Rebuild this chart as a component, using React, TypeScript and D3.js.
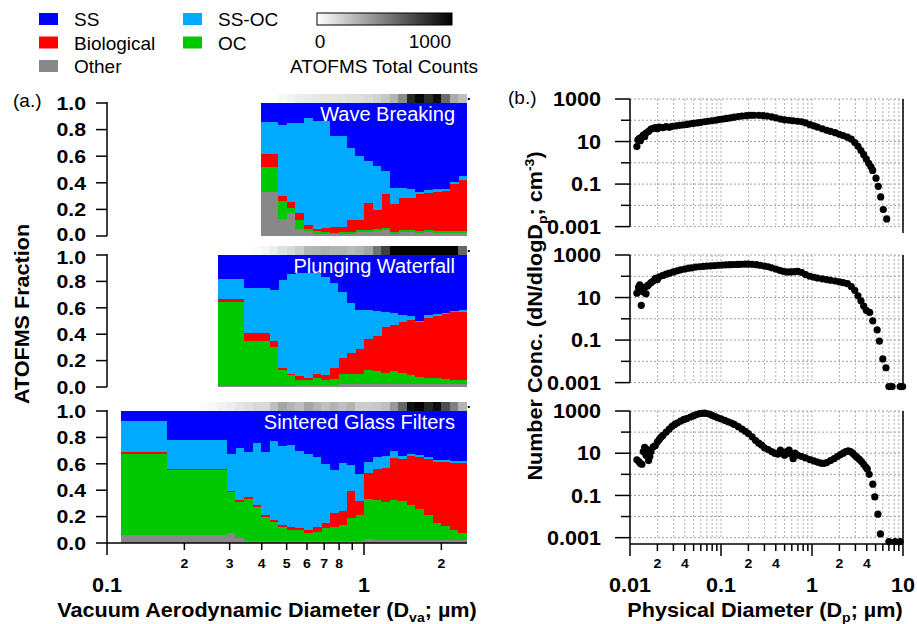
import React from 'react';
import * as d3 from 'd3';

// ---------- Categories ----------
const categories = ['Other', 'OC', 'Biological', 'SS-OC', 'SS'];
const categoryColors = ['#888888', '#00c800', '#ff0000', '#00aaff', '#0000ff'];

// ---------- Fine size-bin edges (µm) ----------
const fineEdges = [0.233, 0.251, 0.271, 0.293, 0.316, 0.341, 0.369, 0.398, 0.430, 0.464, 0.501, 0.541, 0.584, 0.631, 0.681, 0.736, 0.794, 0.858, 0.926, 1.000, 1.080, 1.166, 1.259, 1.359, 1.468, 1.585, 1.711, 1.848, 1.995, 2.154, 2.326, 2.512];

// ---------- Wave Breaking ----------
const waveEdges = [0.398, 0.464, 0.501, 0.541, 0.584, 0.631, 0.681, 0.736, 0.794, 0.858, 0.926, 1.000, 1.080, 1.166, 1.259, 1.359, 1.468, 1.585, 1.711, 1.848, 1.995, 2.154, 2.326, 2.512];
const waveOther = [0.33, 0.13, 0.17, 0.056, 0.035, 0.018, 0.015, 0.013, 0.013, 0.015, 0.03, 0.03, 0.038, 0.043, 0.018, 0.03, 0.03, 0.025, 0.03, 0.025, 0.025, 0.025, 0.02];
const waveOC = [0.19, 0.13, 0.04, 0.064, 0.021, 0.017, 0.015, 0.012, 0.017, 0.015, 0.013, 0.013, 0.018, 0.017, 0.012, 0.018, 0.018, 0.015, 0.018, 0.01, 0.015, 0.015, 0.015];
const waveBio = [0.10, 0.044, 0.048, 0.055, 0.03, 0.015, 0.03, 0.043, 0.038, 0.089, 0.076, 0.202, 0.139, 0.254, 0.208, 0.235, 0.235, 0.274, 0.272, 0.299, 0.30, 0.35, 0.388];
const waveSSOC = [0.24, 0.531, 0.59, 0.673, 0.798, 0.811, 0.801, 0.684, 0.684, 0.544, 0.481, 0.317, 0.329, 0.176, 0.121, 0.077, 0.067, 0.016, 0.025, 0.016, 0.015, 0.015, 0.025];
const waveSS = [0.14, 0.165, 0.152, 0.152, 0.116, 0.139, 0.139, 0.248, 0.248, 0.337, 0.40, 0.438, 0.476, 0.51, 0.641, 0.64, 0.65, 0.67, 0.655, 0.65, 0.645, 0.595, 0.552];
const waveCounts = [30, 50, 70, 80, 90, 100, 100, 110, 120, 130, 150, 180, 220, 300, 450, 850, 970, 820, 950, 580, 330, 250];

// ---------- Plunging Waterfall ----------
const plungeEdges = [0.271, 0.341, 0.430, 0.464, 0.501, 0.541, 0.584, 0.631, 0.681, 0.736, 0.794, 0.858, 0.926, 1.000, 1.080, 1.166, 1.259, 1.359, 1.468, 1.585, 1.711, 1.848, 1.995, 2.154, 2.326, 2.512];
const plungeOther = [0.005, 0.005, 0.005, 0.01, 0.01, 0.015, 0.015, 0.015, 0.015, 0.015, 0.02, 0.02, 0.02, 0.02, 0.02, 0.02, 0.02, 0.02, 0.02, 0.02, 0.02, 0.02, 0.02, 0.02, 0.02];
const plungeOC = [0.64, 0.342, 0.295, 0.117, 0.079, 0.035, 0.035, 0.053, 0.035, 0.048, 0.08, 0.08, 0.08, 0.107, 0.10, 0.089, 0.10, 0.085, 0.069, 0.056, 0.048, 0.045, 0.038, 0.03, 0.03];
const plungeBio = [0.018, 0.063, 0.047, 0.017, 0.011, 0.031, 0.018, 0.032, 0.039, 0.081, 0.123, 0.16, 0.19, 0.233, 0.27, 0.347, 0.353, 0.385, 0.417, 0.414, 0.452, 0.472, 0.492, 0.52, 0.52];
const plungeSSOC = [0.152, 0.337, 0.387, 0.666, 0.753, 0.779, 0.792, 0.76, 0.741, 0.641, 0.497, 0.373, 0.29, 0.227, 0.185, 0.114, 0.084, 0.054, 0.034, 0.01, 0.024, 0.013, 0.007, 0.005, 0.01];
const plungeSS = [0.185, 0.253, 0.266, 0.19, 0.147, 0.14, 0.14, 0.14, 0.17, 0.215, 0.28, 0.367, 0.42, 0.413, 0.425, 0.43, 0.443, 0.456, 0.46, 0.50, 0.456, 0.45, 0.443, 0.425, 0.42];
const plungeCounts = [20, 40, 70, 120, 150, 200, 290, 300, 320, 300, 300, 270, 300, 350, 550, 750, 1000, 1000, 1000, 1000, 1000, 1000, 1000, 1000, 600];

// ---------- Sintered Glass Filters ----------
const sinterEdges = [0.113, 0.171, 0.293, 0.316, 0.341, 0.369, 0.398, 0.430, 0.464, 0.501, 0.541, 0.584, 0.631, 0.681, 0.736, 0.794, 0.858, 0.926, 1.000, 1.080, 1.166, 1.259, 1.359, 1.468, 1.585, 1.711, 1.848, 1.995, 2.154, 2.326, 2.512];
const sinterOther = [0.06, 0.06, 0.072, 0.04, 0.015, 0.015, 0.015, 0.015, 0.015, 0.015, 0.015, 0.015, 0.015, 0.015, 0.015, 0.015, 0.015, 0.015, 0.03, 0.02, 0.02, 0.02, 0.02, 0.02, 0.02, 0.02, 0.02, 0.02, 0.02, 0.02];
const sinterOC = [0.618, 0.49, 0.315, 0.27, 0.32, 0.258, 0.185, 0.147, 0.109, 0.083, 0.083, 0.057, 0.07, 0.095, 0.109, 0.122, 0.173, 0.199, 0.30, 0.305, 0.29, 0.305, 0.297, 0.27, 0.238, 0.194, 0.13, 0.109, 0.078, 0.052];
const sinterBio = [0.012, 0.01, 0.007, 0.015, 0.013, 0.013, 0.014, 0.013, 0.013, 0.02, 0.012, 0.026, 0.033, 0.045, 0.103, 0.103, 0.206, 0.103, 0.20, 0.237, 0.26, 0.319, 0.323, 0.367, 0.394, 0.426, 0.465, 0.484, 0.51, 0.536];
const sinterSSOC = [0.238, 0.22, 0.279, 0.395, 0.342, 0.469, 0.476, 0.598, 0.60, 0.624, 0.59, 0.58, 0.534, 0.445, 0.323, 0.365, 0.194, 0.206, 0.083, 0.09, 0.087, 0.056, 0.017, 0.021, 0.013, 0.012, 0.015, 0.013, 0.012, 0.012];
const sinterSS = [0.072, 0.22, 0.327, 0.28, 0.31, 0.245, 0.31, 0.227, 0.263, 0.258, 0.30, 0.322, 0.348, 0.40, 0.45, 0.395, 0.412, 0.477, 0.387, 0.348, 0.343, 0.30, 0.343, 0.322, 0.335, 0.348, 0.37, 0.374, 0.38, 0.38];
const sinterCounts = [20, 30, 50, 70, 100, 120, 150, 150, 250, 350, 300, 250, 350, 300, 250, 300, 250, 300, 200, 200, 220, 250, 400, 600, 950, 1000, 850, 950, 700, 500, 300];

// ---------- Size distributions (panel b) ----------
const waveD = [0.0119, 0.0122, 0.0127, 0.013, 0.0135, 0.014, 0.0145, 0.015, 0.016, 0.017, 0.018, 0.019, 0.020, 0.021, 0.023, 0.025, 0.027, 0.029, 0.032, 0.035, 0.038, 0.042, 0.046, 0.050, 0.055, 0.060, 0.066, 0.072, 0.079, 0.087, 0.095, 0.105, 0.115, 0.127, 0.14, 0.155, 0.17, 0.19, 0.21, 0.23, 0.26, 0.29, 0.32, 0.36, 0.40, 0.45, 0.50, 0.56, 0.62, 0.69, 0.77, 0.85, 0.95, 1.05, 1.15, 1.3, 1.45, 1.6, 1.8, 2.0, 2.2, 2.45, 2.7, 2.95, 3.2, 3.45, 3.7, 3.95, 4.2, 4.45, 4.64, 5.05, 5.35, 5.69, 6.07, 6.62];
const waveN = [5.8, 12, 14, 11, 16, 20, 17, 25, 30, 38, 42, 45, 40, 48, 45, 50, 47, 52, 55, 58, 60, 64, 68, 72, 75, 80, 85, 90, 95, 100, 108, 115, 122, 130, 140, 150, 158, 165, 170, 172, 170, 165, 158, 145, 130, 115, 105, 100, 95, 90, 85, 75, 62, 55, 48, 40, 34, 30, 26, 22, 19, 16, 13, 9, 6, 3.8, 2.4, 1.5, 0.95, 0.65, 0.44, 0.19, 0.078, 0.025, 0.0063, 0.0023];

const plungeD = [0.0119, 0.0124, 0.0128, 0.0133, 0.0137, 0.014, 0.0145, 0.015, 0.0155, 0.016, 0.017, 0.018, 0.019, 0.020, 0.021, 0.023, 0.025, 0.027, 0.030, 0.033, 0.036, 0.040, 0.044, 0.048, 0.053, 0.058, 0.064, 0.070, 0.077, 0.085, 0.094, 0.103, 0.113, 0.125, 0.138, 0.152, 0.167, 0.184, 0.20, 0.22, 0.245, 0.27, 0.30, 0.33, 0.36, 0.40, 0.44, 0.48, 0.53, 0.58, 0.64, 0.70, 0.77, 0.85, 0.95, 1.05, 1.15, 1.3, 1.45, 1.6, 1.8, 2.0, 2.2, 2.45, 2.7, 2.95, 3.2, 3.45, 3.7, 3.95, 4.3, 4.65, 5.2, 5.5, 6.0, 6.5, 7.0, 7.6, 9.3, 9.9];
const plungeN = [16, 30, 40, 4.3, 25, 18, 30, 15, 35, 40, 50, 60, 80, 70, 95, 110, 125, 140, 160, 180, 200, 220, 240, 250, 270, 280, 295, 300, 310, 320, 330, 335, 340, 350, 355, 360, 365, 370, 370, 365, 350, 330, 300, 280, 250, 220, 190, 170, 160, 160, 165, 170, 150, 120, 100, 90, 82, 75, 70, 65, 60, 55, 50, 45, 33, 22, 12, 7, 4, 2.5, 2.0, 0.8, 0.3, 0.09, 0.013, 0.005, 0.00065, 0.00065, 0.00065, 0.00065];

const sinterD = [0.0119, 0.0125, 0.013, 0.0135, 0.014, 0.0145, 0.015, 0.0155, 0.016, 0.0165, 0.017, 0.018, 0.019, 0.020, 0.021, 0.022, 0.023, 0.025, 0.027, 0.029, 0.031, 0.033, 0.036, 0.039, 0.042, 0.046, 0.050, 0.054, 0.058, 0.062, 0.066, 0.070, 0.075, 0.080, 0.086, 0.092, 0.10, 0.11, 0.12, 0.13, 0.14, 0.155, 0.17, 0.185, 0.20, 0.22, 0.24, 0.26, 0.28, 0.30, 0.33, 0.36, 0.39, 0.42, 0.45, 0.47, 0.50, 0.53, 0.56, 0.59, 0.62, 0.65, 0.70, 0.77, 0.85, 0.95, 1.05, 1.15, 1.25, 1.35, 1.45, 1.6, 1.75, 1.9, 2.05, 2.2, 2.35, 2.5, 2.65, 2.8, 2.95, 3.1, 3.3, 3.5, 3.7, 3.9, 4.05, 4.25, 4.66, 4.9, 5.3, 5.65, 7.0, 8.2, 9.3];
const sinterN = [4.9, 4.0, 3.3, 3.0, 12, 19, 8, 15, 4.5, 7, 12, 20, 23, 35, 45, 58, 70, 100, 140, 190, 230, 270, 330, 400, 440, 520, 600, 680, 750, 780, 800, 760, 700, 620, 550, 480, 420, 360, 310, 270, 230, 180, 140, 110, 85, 60, 40, 30, 24, 18, 15, 12, 10, 9, 14, 10, 8, 12, 14, 9, 5.5, 10, 8, 7, 6, 5, 4.3, 3.8, 3.4, 3.3, 3.6, 4.5, 5.5, 7, 8.5, 10, 12, 13, 12, 10, 8, 6.5, 5.2, 4, 3, 2.2, 1.8, 1.0, 0.34, 0.085, 0.013, 0.0015, 0.00065, 0.00065, 0.00065];

// ---------- Tick labels ----------
const fracTicks = [0, 0.2, 0.4, 0.6, 0.8, 1.0];
const aMinorLabels = [0.2, 0.3, 0.4, 0.5, 0.6, 0.7, 0.8, 2];
const aMajorLabels = [0.1, 1];
const bMinorLabels = [0.02, 0.04, 0.2, 0.4, 2, 4];
const bMajorLabels = [0.01, 0.1, 1, 10];
const bYMajor = [1000, 10, 0.1, 0.001];
const bYMinor = [100, 1, 0.01];
const panelTitles = ['Wave Breaking', 'Plunging Waterfall', 'Sintered Glass Filters'];

const FONT = "'Liberation Sans', Arial, Helvetica, sans-serif";
const SX = 1.08;

function BText(props: { x: number; y: number; size: number; anchor?: string; rotate?: number; dy?: string; sx?: number; children: any }) {
  const { x, y, size, anchor = 'middle', rotate = 0, dy, sx = SX, children } = props;
  return (
    <text
      transform={`translate(${x},${y})${rotate ? ` rotate(${rotate})` : ''} scale(${sx},1)`}
      fontSize={size}
      fontWeight="bold"
      textAnchor={anchor}
      dy={dy}
      fill="#000"
    >
      {children}
    </text>
  );
}

export default function App() {
  const W = 917, H = 624;
  const xA = d3.scaleLog().domain([0.1, 2.512]).range([107, 466.8]);
  const xB = d3.scaleLog().domain([0.01, 10]).range([630, 903]);
  const rowsA = [{ top: 103, bottom: 236 }, { top: 255, bottom: 387 }, { top: 411, bottom: 543 }];
  const rowsB = [{ top: 99, bottom: 233 }, { top: 255, bottom: 389 }, { top: 411, bottom: 544 }];
  const grayScale = d3.scaleLinear<string>().domain([0, 1000]).range(['#ffffff', '#000000']);

  const panelsA = [
    { edges: waveEdges, series: [waveOther, waveOC, waveBio, waveSSOC, waveSS], counts: waveCounts },
    { edges: plungeEdges, series: [plungeOther, plungeOC, plungeBio, plungeSSOC, plungeSS], counts: plungeCounts },
    { edges: sinterEdges, series: [sinterOther, sinterOC, sinterBio, sinterSSOC, sinterSS], counts: sinterCounts },
  ];
  const panelsB = [
    { d: waveD, n: waveN },
    { d: plungeD, n: plungeN },
    { d: sinterD, n: sinterN },
  ];

  const stack = d3.stack<any>().keys(categories);
  const bGridX = xB.ticks();
  const bDecades = [0.001, 0.01, 0.1, 1, 10, 100, 1000];
  const isDecade = (t: number) => Math.abs(Math.log10(t) - Math.round(Math.log10(t))) < 1e-6;

  const legendItems = [
    { name: 'SS', col: 0, row: 0 },
    { name: 'Biological', col: 0, row: 1 },
    { name: 'Other', col: 0, row: 2 },
    { name: 'SS-OC', col: 1, row: 0 },
    { name: 'OC', col: 1, row: 1 },
  ];

  return (
    <svg width={W} height={H} style={{ display: 'block', position: 'absolute', left: 0, top: 0, background: '#fff' }} fontFamily={FONT}>
      <rect x={0} y={0} width={W} height={H} fill="#fff" />

      {/* Legend */}
      {legendItems.map((l) => {
        const x = l.col === 0 ? 39 : 183;
        const y = 13 + l.row * 23.5;
        const color = categoryColors[categories.indexOf(l.name)];
        return (
          <g key={l.name}>
            <rect x={x} y={y} width={19} height={12} fill={color} />
            <text x={x + 35} y={y + 13} fontSize={19} fill="#000">{l.name}</text>
          </g>
        );
      })}
      <defs>
        <linearGradient id="cbar" x1="0" x2="1" y1="0" y2="0">
          <stop offset="0" stopColor="#ffffff" />
          <stop offset="1" stopColor="#000000" />
        </linearGradient>
      </defs>
      <rect x={317} y={13} width={135} height={12} fill="url(#cbar)" stroke="#000" strokeWidth={1} />
      <text x={320} y={48} fontSize={19} textAnchor="middle">0</text>
      <text x={451} y={48} fontSize={19} textAnchor="end">1000</text>
      <text x={384} y={73} fontSize={19} textAnchor="middle">ATOFMS Total Counts</text>

      {/* Panel labels */}
      <text x={13} y={107} fontSize={19}>(a.)</text>
      <text x={508} y={104} fontSize={19}>(b.)</text>

      {/* Panel (a) */}
      {panelsA.map((p, pi) => {
        const row = rowsA[pi];
        const y = d3.scaleLinear().domain([0, 1]).range([row.bottom, row.top]);
        const data = p.edges.slice(0, -1).map((_, i) => {
          const o: any = {};
          categories.forEach((c, ci) => { o[c] = p.series[ci][i]; });
          return o;
        });
        const layers = stack(data);
        const cEdges = fineEdges.slice(fineEdges.length - 1 - p.counts.length);
        return (
          <g key={'a' + pi}>
            {layers.map((layer, li) => (
              <g key={li} fill={categoryColors[li]} shapeRendering="crispEdges">
                {layer.map((d, i) => {
                  const x0 = xA(p.edges[i]);
                  const x1 = xA(p.edges[i + 1]);
                  const yTop = y(Math.min(1, d[1]));
                  const yBot = y(d[0]);
                  return <rect key={i} x={x0} y={yTop} width={x1 - x0 + 0.5} height={Math.max(0, yBot - yTop)} />;
                })}
              </g>
            ))}
            <g shapeRendering="crispEdges">
              {p.counts.map((c, i) => {
                const x0 = xA(cEdges[i]);
                const x1 = xA(cEdges[i + 1]);
                return <rect key={i} x={x0} y={row.top - 9} width={x1 - x0 + 0.5} height={9} fill={grayScale(c)} />;
              })}
            </g>
            <rect x={xA(2.512) + 1} y={row.top - 5} width={2} height={2} fill="#000" />
            <text x={455} y={row.top + 18} fontSize={20} fill="#fff" textAnchor="end">{panelTitles[pi]}</text>
            <line x1={107} x2={107} y1={row.top - 1} y2={row.bottom} stroke="#000" strokeWidth={1.5} />
            {fracTicks.map((t) => {
              const nudge = t === 0 && pi === 0 ? -2 : t === 1 && pi === 1 ? 2 : 0;
              return (
                <g key={t}>
                  <line x1={96} x2={107} y1={y(t)} y2={y(t)} stroke="#000" strokeWidth={1.5} />
                  <BText x={86} y={y(t) + nudge} size={19} sx={1.12} anchor="end" dy="0.36em">{t.toFixed(1)}</BText>
                </g>
              );
            })}
          </g>
        );
      })}

      {/* Panel (a) x axis */}
      <g>
        <line x1={107} x2={467} y1={543} y2={543} stroke="#000" strokeWidth={1.5} />
        {xA.ticks().filter((t) => t <= 2.512).map((t, i) => (
          <line key={i} x1={xA(t)} x2={xA(t)} y1={543} y2={543 + (isDecade(t) ? 12 : 7)} stroke="#000" strokeWidth={1.5} />
        ))}
        {aMinorLabels.map((t) => (
          <BText key={t} x={xA(t)} y={568} size={13}>{t < 1 ? Math.round(t * 10) : t}</BText>
        ))}
        {aMajorLabels.map((t) => (
          <BText key={t} x={xA(t)} y={592} size={20}>{t}</BText>
        ))}
        <BText x={267} y={617} size={20}>
          Vacuum Aerodynamic Diameter (D<tspan fontSize={13} dy={5}>va</tspan><tspan dy={-5}>; µm)</tspan>
        </BText>
      </g>

      <BText x={29} y={314} size={20} rotate={-90}>ATOFMS Fraction</BText>

      {/* Panel (b) */}
      {panelsB.map((p, pi) => {
        const row = rowsB[pi];
        const y = d3.scaleLog().domain([Math.pow(10, -3.3), 1000]).range([row.bottom, row.top]);
        return (
          <g key={'b' + pi}>
            {bGridX.map((t, i) => (
              <line key={'gx' + i} x1={xB(t)} x2={xB(t)} y1={row.top} y2={y(0.001)} stroke="#b0b0b0" strokeWidth={1} strokeDasharray="2,2" />
            ))}
            {bDecades.map((t, i) => (
              <line key={'gy' + i} x1={630} x2={903} y1={y(t)} y2={y(t)} stroke="#a0a0a0" strokeWidth={1} strokeDasharray="2,2" />
            ))}
            <line x1={630} x2={630} y1={row.top} y2={pi === 2 ? row.bottom : y(0.001)} stroke="#000" strokeWidth={1.5} />
            <line x1={903} x2={903} y1={row.top} y2={row.bottom} stroke="#000" strokeWidth={1.5} />
            {bYMajor.map((t) => (
              <g key={'ym' + t}>
                <line x1={615} x2={630} y1={y(t)} y2={y(t)} stroke="#000" strokeWidth={1.5} />
                <BText x={601} y={y(t)} size={20} anchor="end" dy="0.36em">{t}</BText>
              </g>
            ))}
            {bYMinor.map((t) => (
              <line key={'yn' + t} x1={621} x2={630} y1={y(t)} y2={y(t)} stroke="#000" strokeWidth={1.5} />
            ))}
            {p.d.map((dv, i) => (
              <circle key={i} cx={xB(dv)} cy={y(p.n[i])} r={3.6} fill="#000" />
            ))}
          </g>
        );
      })}

      {/* Panel (b) x axis */}
      <g>
        <line x1={630} x2={903} y1={544} y2={544} stroke="#000" strokeWidth={1.5} />
        {bGridX.map((t, i) => (
          <line key={i} x1={xB(t)} x2={xB(t)} y1={544} y2={544 + (isDecade(t) ? 12 : 7)} stroke="#000" strokeWidth={1.5} />
        ))}
        {bMinorLabels.map((t) => (
          <BText key={t} x={xB(t)} y={568} size={13}>{String(t).replace(/^0\.0*/, '')}</BText>
        ))}
        {bMajorLabels.map((t) => (
          <BText key={t} x={xB(t)} y={592} size={20}>{t}</BText>
        ))}
        <BText x={765} y={617} size={20}>
          Physical Diameter (D<tspan fontSize={13} dy={5}>p</tspan><tspan dy={-5}>; µm)</tspan>
        </BText>
      </g>

      <BText x={542} y={316} size={20} rotate={-90}>
        Number Conc. (dN/dlogD<tspan fontSize={13} dy={5}>p</tspan><tspan dy={-5}>; cm</tspan><tspan fontSize={13} dy={-8}>-3</tspan><tspan dy={8}>)</tspan>
      </BText>
    </svg>
  );
}
